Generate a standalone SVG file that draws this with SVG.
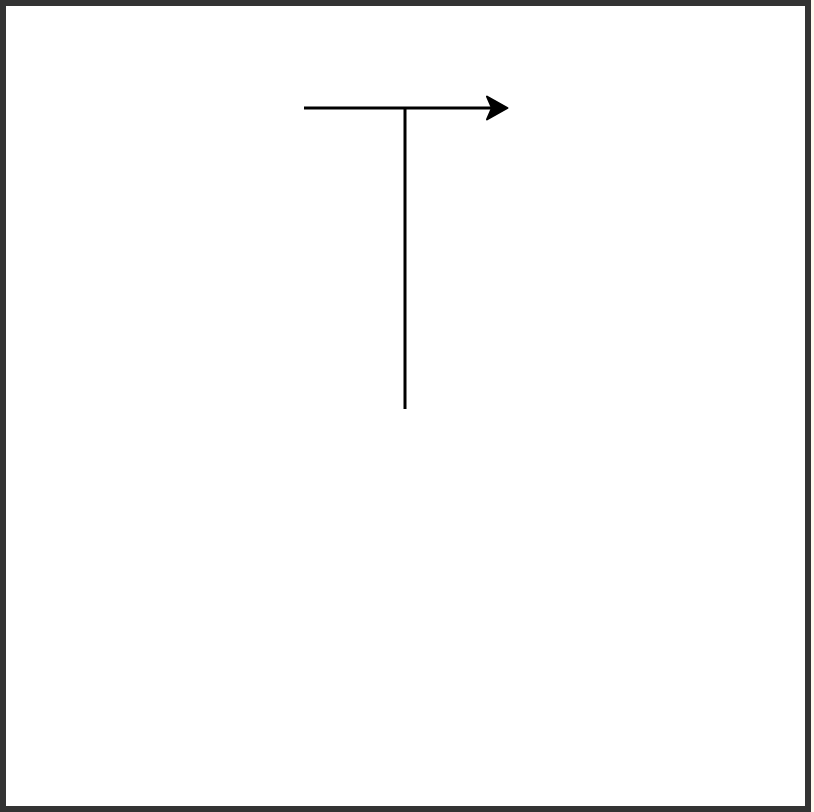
<svg xmlns="http://www.w3.org/2000/svg" width="814" height="812" viewBox="0 0 814 812">
<style>
.ln{stroke:#000;stroke-width:3;fill:none}
.ah{fill:#000;stroke:#000;stroke-width:2;stroke-linejoin:round}
</style>
<rect x="0" y="0" width="814" height="812" fill="#fdf8ee"/>
<rect x="3" y="3" width="805" height="806" fill="#fff" stroke="#333" stroke-width="6"/>
<g id="connectors">
<line class="ln" x1="304" y1="108" x2="495" y2="108"/>
<path class="ah" d="M507.5,108 L487,96.5 L492,108 L487,119.5 Z"/>
<line class="ln" x1="405" y1="108" x2="405" y2="409"/>
</g>
</svg>
